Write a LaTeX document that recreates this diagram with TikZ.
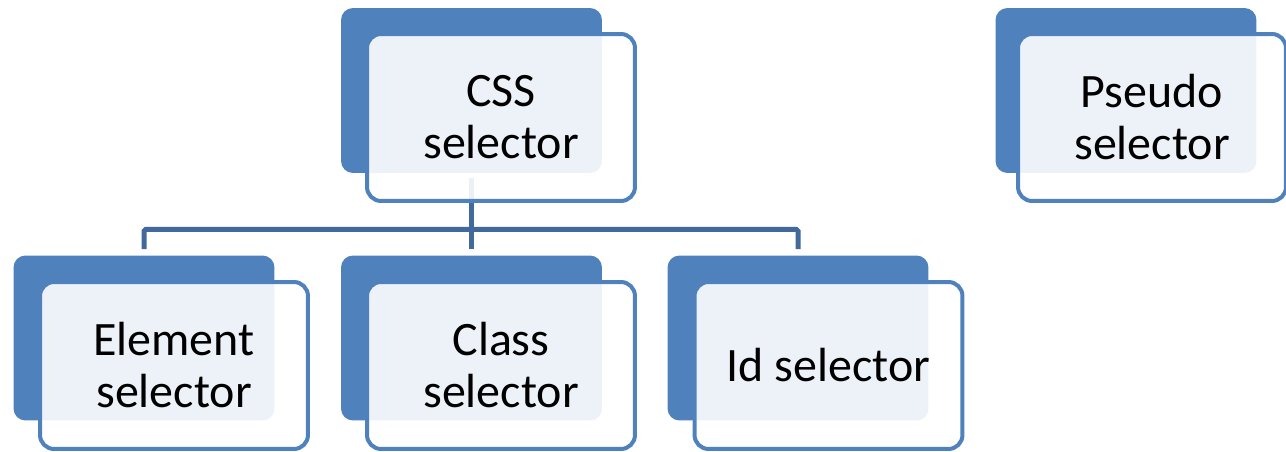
\documentclass[tikz,border=0pt]{standalone}
\usepackage{fontspec}
\setmainfont{Carlito}
\usepackage{xcolor}
\usepackage{tikz}
\usetikzlibrary{calc}
\definecolor{accent}{HTML}{4F81BD}
\definecolor{linkblue}{HTML}{41699B}
\tikzset{
  backbox/.style={
    draw=none, fill=accent, rounded corners=0.24cm,
    minimum width=5.22cm, minimum height=3.3cm, inner sep=0pt},
  frontbox/.style={
    draw=accent, line width=0.08cm, fill=white, fill opacity=0.9,
    text opacity=1, rounded corners=0.28cm, align=center,
    minimum width=5.36cm, minimum height=3.34cm, inner sep=0pt,
    font=\fontsize{27.3}{29.6}\selectfont},
  link/.style={draw=linkblue, line width=0.1cm, rounded corners=1pt}
}

\begin{document}
\begin{tikzpicture}[x=0.02cm, y=-0.02cm]
		\useasboundingbox (0,0) rectangle (1286,452);
		% back boxes
		\node[backbox] (cssback) at (471.5,90.5) {};
		\node[backbox] (pseudoback) at (1126,90.5) {};
		\node[backbox] (elemback) at (144,338) {};
		\node[backbox] (classback) at (471.5,338) {};
		\node[backbox] (idback) at (798,338) {};
		%
		\draw[link] ([yshift=-0.1cm]cssback.south) -- ++(0,51) coordinate (bus);
		\draw[link] ([yshift=0.12cm]elemback.north) |- (bus) -| ([yshift=0.12cm]idback.north);
		\draw[link] (bus) -- ([yshift=0.12cm]classback.north);
		% front boxes
		\node[frontbox] (css) at (501,117.5) {CSS\\selector};
		\node[frontbox] (pseudo) at (1152,117.5) {Pseudo\\selector};
		\node[frontbox] (elem) at (174,365.5) {Element\\selector};
		\node[frontbox] (class) at (501,365.5) {Class\\selector};
		\node[frontbox] (id) at (828.5,365.5) {Id selector};
	\end{tikzpicture}
\end{document}
